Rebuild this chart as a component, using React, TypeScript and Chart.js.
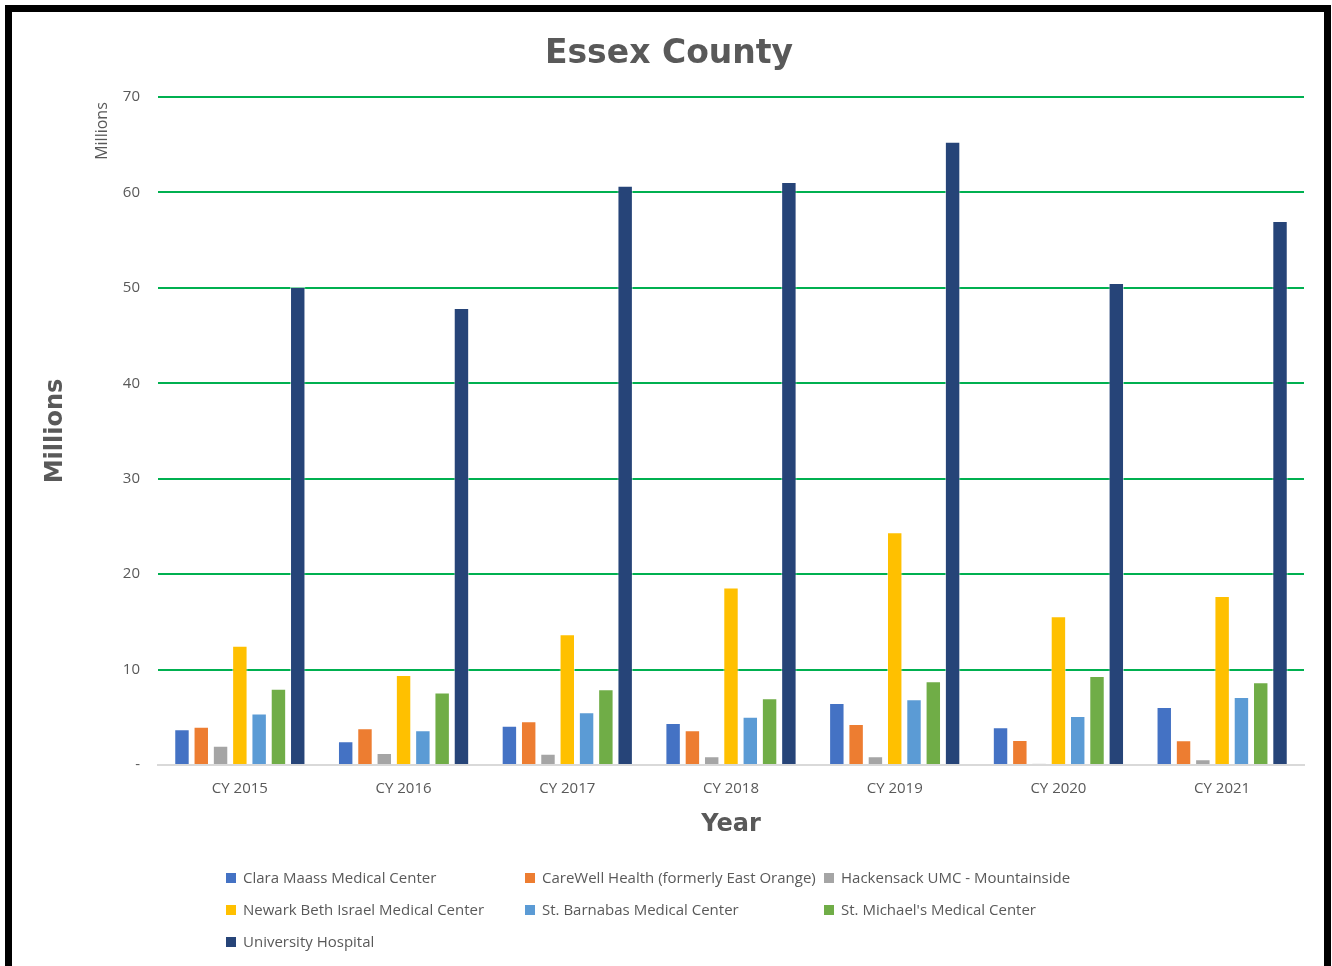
import React, { useEffect, useRef } from "react";
import { Chart, registerables } from "chart.js";

Chart.register(...registerables);

const categories = ["CY 2015", "CY 2016", "CY 2017", "CY 2018", "CY 2019", "CY 2020", "CY 2021"];
const seriesNames = [
  "Clara Maass Medical Center",
  "CareWell Health (formerly East Orange)",
  "Hackensack UMC - Mountainside",
  "Newark Beth Israel Medical Center",
  "St. Barnabas Medical Center",
  "St. Michael's Medical Center",
  "University Hospital",
];
const claraMaass = [3.74, 2.48, 4.12, 4.4, 6.5, 3.95, 6.08];
const careWell = [4.0, 3.84, 4.58, 3.64, 4.3, 2.62, 2.59];
const hackensack = [2.03, 1.26, 1.18, 0.91, 0.91, 0.14, 0.6];
const newarkBeth = [12.5, 9.43, 13.7, 18.6, 24.4, 15.6, 17.7];
const stBarnabas = [5.4, 3.63, 5.52, 5.06, 6.88, 5.13, 7.13];
const stMichaels = [8.0, 7.61, 7.93, 6.99, 8.77, 9.33, 8.67];
const university = [50.1, 47.9, 60.7, 61.1, 65.3, 50.5, 57.0];
const seriesValues = [claraMaass, careWell, hackensack, newarkBeth, stBarnabas, stMichaels, university];
const seriesColors = ["#4472C4", "#ED7D31", "#A5A5A5", "#FFC000", "#5B9BD5", "#70AD47", "#264478"];

const chartTitle = "Essex County";
const yMin = 0;
const yMax = 70;
const yStep = 10;

const TEXT = "#595959";
const BODY_FONT = "'Open Sans', 'Liberation Sans', sans-serif";
const BOLD_FONT = "'DejaVu Sans', sans-serif";

const extrasPlugin = {
  id: "extras",
  afterDraw(chart: any) {
    const ctx = chart.ctx;
    // chart title
    ctx.save();
    ctx.fillStyle = TEXT;
    ctx.font = `bold 33px ${BOLD_FONT}`;
    ctx.textAlign = "center";
    ctx.textBaseline = "middle";
    ctx.fillText(chartTitle, 669, 54);
    ctx.restore();

    // display unit label
    ctx.save();
    ctx.fillStyle = TEXT;
    ctx.font = `16px ${BODY_FONT}`;
    ctx.textAlign = "center";
    ctx.textBaseline = "middle";
    ctx.translate(102, 131);
    ctx.rotate(-Math.PI / 2);
    ctx.fillText("Millions", 0, 0);
    ctx.restore();

    // legend grid
    ctx.save();
    const cols = [226, 525, 824];
    const rows = [878, 910, 942];
    ctx.font = `15px ${BODY_FONT}`;
    ctx.textAlign = "left";
    ctx.textBaseline = "middle";
    chart.data.datasets.forEach((ds: any, i: number) => {
      const x = cols[i % 3];
      const y = rows[Math.floor(i / 3)];
      ctx.fillStyle = ds.backgroundColor;
      ctx.fillRect(x, y - 5, 10, 10);
      ctx.fillStyle = TEXT;
      ctx.fillText(ds.label, x + 17, y + 1);
    });
    ctx.restore();
  },
};

export default function App() {
  const canvasRef = useRef<HTMLCanvasElement | null>(null);

  useEffect(() => {
    document.body.style.margin = "0";
    const canvas = canvasRef.current;
    if (!canvas) return;
    const chart = new Chart(canvas, {
      type: "bar",
      data: {
        labels: categories,
        datasets: seriesNames.map((name, i) => ({
          label: name,
          data: seriesValues[i],
          backgroundColor: seriesColors[i],
          borderColor: "rgba(255,255,255,0.5)",
          borderWidth: 1,
          minBarLength: 1.5,
          categoryPercentage: 0.825,
          barPercentage: 0.8,
        })),
      },
      options: {
        responsive: false,
        animation: false,
        layout: { padding: { left: 0, right: 28, top: 97, bottom: 121 } },
        plugins: {
          legend: { display: false },
          tooltip: { enabled: false },
          title: { display: false },
        },
        scales: {
          x: {
            grid: { display: false, drawTicks: false },
            border: { display: true, color: "#D9D9D9", width: 2 },
            ticks: { color: TEXT, font: { family: BODY_FONT, size: 15 }, padding: 15, maxRotation: 0 },
            title: {
              display: true,
              text: "Year",
              color: TEXT,
              font: { family: BOLD_FONT, size: 24, weight: "bold" },
              padding: { top: 0, bottom: 6 },
            },
            afterFit: (scale: any) => {
              scale.height = 80;
            },
          },
          y: {
            min: yMin,
            max: yMax,
            ticks: {
              stepSize: yStep,
              color: TEXT,
              font: { family: BODY_FONT, size: 15 },
              padding: 18,
              callback: (v: any) => (Number(v) === 0 ? "-" : String(v)),
            },
            grid: {
              drawTicks: false,
              lineWidth: 2,
              color: (c: any) => (c.tick && c.tick.value === 0 ? "#D9D9D9" : "#00B050"),
            },
            border: { display: false },
            title: {
              display: true,
              text: "Millions",
              color: TEXT,
              font: { family: BOLD_FONT, size: 24, weight: "bold" },
              padding: { top: 41, bottom: 0 },
            },
            afterFit: (scale: any) => {
              scale.width = 158;
            },
          },
        },
      },
      plugins: [extrasPlugin],
    } as any);
    return () => chart.destroy();
  }, []);

  return (
    <div style={{ position: "fixed", left: 0, top: 0, width: 1332, height: 966, overflow: "hidden", background: "#fff" }}>
      <canvas ref={canvasRef} width={1332} height={966} style={{ position: "absolute", left: 0, top: 0, width: 1332, height: 966 }} />
      <div
        style={{
          position: "absolute",
          left: 5,
          top: 5,
          width: 1326,
          height: 1000,
          border: "7px solid #000",
          boxSizing: "border-box",
          pointerEvents: "none",
        }}
      />
    </div>
  );
}
